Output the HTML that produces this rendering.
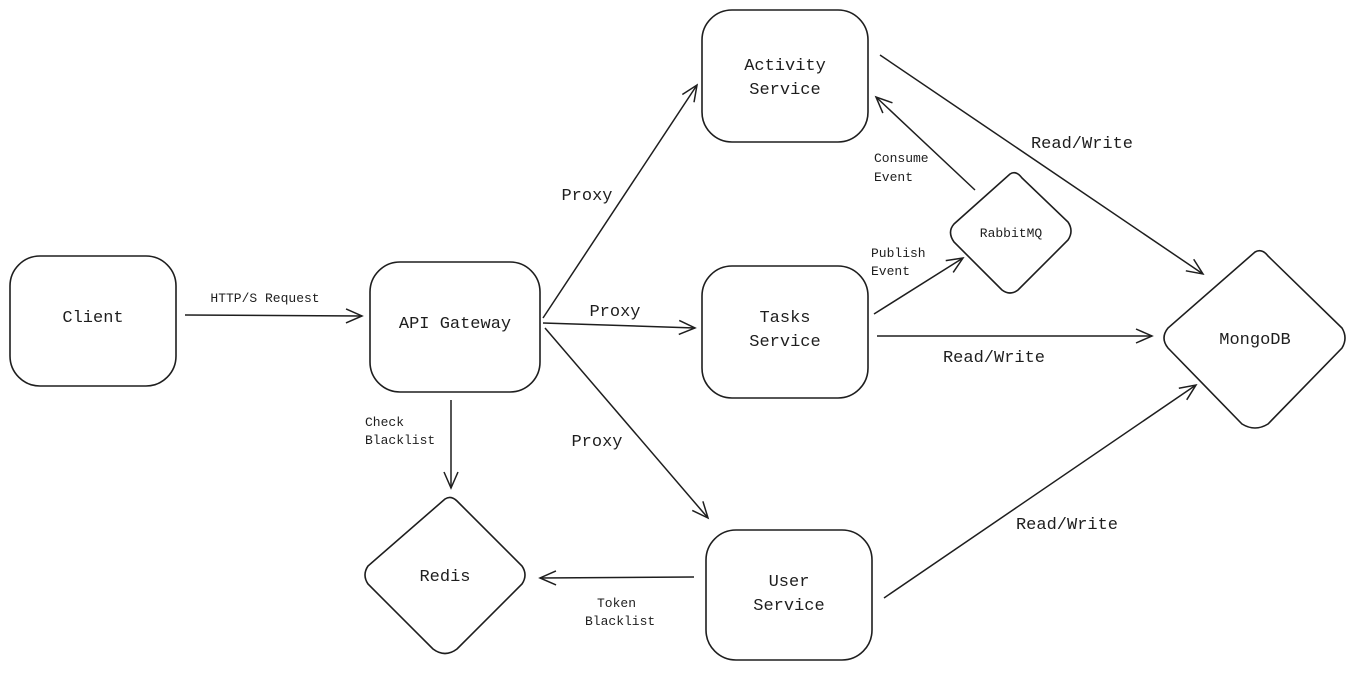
<!DOCTYPE html>
<html><head><meta charset="utf-8"><style>
html,body{margin:0;padding:0;background:#fff;}
svg{display:block;}
text{font-family:"Liberation Mono",monospace;fill:#1e1e1e;}
</style></head><body>
<svg width="1362" height="682" viewBox="0 0 1362 682" xmlns="http://www.w3.org/2000/svg">
<defs>
<marker id="a" markerWidth="20" markerHeight="20" refX="18" refY="10" orient="auto" markerUnits="userSpaceOnUse">
<path d="M2,3 L18,10 L2,17" fill="none" stroke="#1e1e1e" stroke-width="1.5"/>
</marker>
</defs>
<g fill="none" stroke="#1e1e1e" stroke-width="1.6">
<rect x="10" y="256" width="166" height="130" rx="30"/>
<rect x="370" y="262" width="170" height="130" rx="30"/>
<rect x="702" y="10" width="166" height="132" rx="30"/>
<rect x="702" y="266" width="166" height="132" rx="30"/>
<rect x="706" y="530" width="166" height="130" rx="30"/>
<path d="M445,499 Q451,495 457,501 L522,566 Q528,575 522,584 L457,649 Q445,658 433,649 L368,584 Q362,575 368,566 Z"/>
<path d="M1010,174 Q1016,170 1022,178 L1068,222 Q1074,231 1068,240 L1018,290 Q1010,296 1002,290 L954,242 Q947,232 954,224 Z"/>
<path d="M1255,252 Q1262,248 1268,256 L1342,328 Q1348,338 1342,348 L1268,424 Q1255,432 1242,424 L1168,348 Q1160,338 1168,328 Z"/>
</g>
<g fill="none" stroke="#1e1e1e" stroke-width="1.5" marker-end="url(#a)">
<line x1="185" y1="315" x2="362" y2="316"/>
<line x1="543" y1="318" x2="697" y2="85"/>
<line x1="543" y1="323" x2="695" y2="328"/>
<line x1="545" y1="328" x2="708" y2="518"/>
<line x1="451" y1="400" x2="451" y2="488"/>
<line x1="694" y1="577" x2="540" y2="578"/>
<line x1="880" y1="55" x2="1203" y2="274"/>
<line x1="877" y1="336" x2="1152" y2="336"/>
<line x1="884" y1="598" x2="1196" y2="385"/>
<line x1="874" y1="314" x2="963" y2="258"/>
<line x1="975" y1="190" x2="876" y2="97"/>
</g>
<g font-size="17" text-anchor="middle">
<text x="93" y="322">Client</text>
<text x="455" y="328">API Gateway</text>
<text x="785" y="70">Activity</text>
<text x="785" y="94">Service</text>
<text x="785" y="322">Tasks</text>
<text x="785" y="346">Service</text>
<text x="789" y="586">User</text>
<text x="789" y="610">Service</text>
<text x="445" y="581">Redis</text>
<text x="1255" y="344">MongoDB</text>
<text x="587" y="200">Proxy</text>
<text x="615" y="316">Proxy</text>
<text x="597" y="446">Proxy</text>
<text x="1082" y="148">Read/Write</text>
<text x="994" y="362">Read/Write</text>
<text x="1067" y="529">Read/Write</text>
</g>
<g font-size="13" text-anchor="middle">
<text x="1011" y="237">RabbitMQ</text>
<text x="265" y="302">HTTP/S Request</text>
</g>
<g font-size="13">
<text x="365" y="426">Check</text>
<text x="365" y="444">Blacklist</text>
<text x="597" y="607">Token</text>
<text x="585" y="625">Blacklist</text>
<text x="874" y="162">Consume</text>
<text x="874" y="181">Event</text>
<text x="871" y="257">Publish</text>
<text x="871" y="275">Event</text>
</g>
</svg>
</body></html>
